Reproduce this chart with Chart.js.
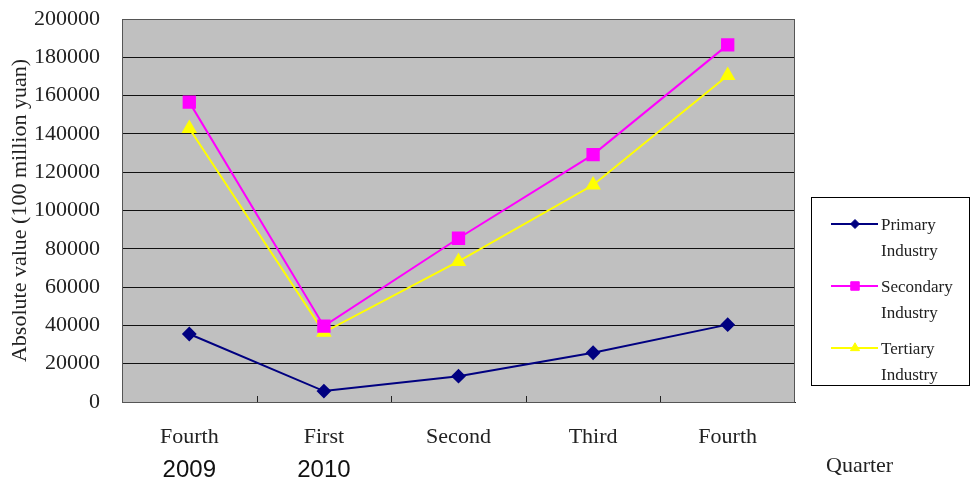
<!DOCTYPE html>
<html>
<head>
<meta charset="utf-8">
<script src="https://cdn.jsdelivr.net/npm/chart.js@4/dist/chart.umd.min.js"></script>
<style>
  html, body { margin: 0; padding: 0; background: #fff; }
  #wrap { width: 972px; height: 480px; }
</style>
</head>
<body>
<div id="wrap"><canvas id="c" width="972" height="480"></canvas></div>
<script>
// Quarterly output by industry, 2009 Q4 to 2010 Q4
const quarters = ['Fourth', 'First', 'Second', 'Third', 'Fourth'];
const years = ['2009', '2010', '', '', ''];
const primary = [35500, 5700, 13500, 25700, 40400];
const secondary = [156600, 39600, 85500, 129200, 186500];
const tertiary = [142800, 36400, 73400, 113300, 170500];
const seriesNames = [['Primary', 'Industry'], ['Secondary', 'Industry'], ['Tertiary', 'Industry']];
const yTicks = [0, 20000, 40000, 60000, 80000, 100000, 120000, 140000, 160000, 180000, 200000];

const SERIF = "'Liberation Serif', 'DejaVu Serif', serif";
const SANS = "'Liberation Sans', Arial, sans-serif";

// Grey plot area, frame and inward tick marks on the category axis
const plotFrame = {
  id: 'plotFrame',
  beforeDraw(chart) {
    const { ctx, chartArea: a } = chart;
    ctx.save();
    ctx.fillStyle = '#c0c0c0';
    ctx.fillRect(a.left, a.top, a.right - a.left, a.bottom - a.top);
    ctx.restore();
  },
  afterDatasetsDraw(chart) {
    const { ctx, chartArea: a } = chart;
    const xs = chart.scales.x;
    ctx.save();
    ctx.strokeStyle = '#222';
    ctx.lineWidth = 1;
    ctx.beginPath();
    for (let i = 0; i < quarters.length - 1; i++) {
      const px = Math.round((xs.getPixelForValue(i) + xs.getPixelForValue(i + 1)) / 2) + 0.5;
      ctx.moveTo(px, a.bottom);
      ctx.lineTo(px, a.bottom - 6);
    }
    ctx.stroke();
    ctx.strokeStyle = '#555';
    ctx.strokeRect(a.left + 0.5, a.top + 0.5, a.right - a.left - 1, a.bottom - a.top);
    ctx.restore();
  }
};

// Boxed legend with two-line names, plus the "Quarter" caption
const sideLegend = {
  id: 'sideLegend',
  afterDraw(chart) {
    const { ctx } = chart;
    const helpers = Chart.helpers || {};
    ctx.save();
    ctx.strokeStyle = '#000';
    ctx.lineWidth = 1;
    ctx.strokeRect(811.5, 197.5, 158, 188);
    const rows = [224, 286, 348];
    chart.data.datasets.forEach((ds, i) => {
      const y = rows[i];
      ctx.strokeStyle = ds.borderColor;
      ctx.lineWidth = 2;
      ctx.beginPath();
      ctx.moveTo(831, y);
      ctx.lineTo(878, y);
      ctx.stroke();
      const opts = { pointStyle: ds.pointStyle, radius: ds.pointRadius * 0.75, rotation: 0, borderWidth: 1 };
      ctx.fillStyle = ds.pointBackgroundColor;
      ctx.strokeStyle = ds.pointBorderColor;
      ctx.lineWidth = 1;
      if (helpers.drawPoint) helpers.drawPoint(ctx, opts, 855, y);
      ctx.fillStyle = '#222';
      ctx.font = '17px ' + SERIF;
      ctx.textAlign = 'left';
      ctx.textBaseline = 'middle';
      ctx.fillText(seriesNames[i][0], 881, y + 2);
      ctx.fillText(seriesNames[i][1], 881, y + 28);
    });
    ctx.font = '22px ' + SERIF;
    ctx.textAlign = 'left';
    ctx.textBaseline = 'alphabetic';
    ctx.fillStyle = '#222';
    ctx.fillText('Quarter', 826, 472);
    ctx.restore();
  }
};

new Chart(document.getElementById('c'), {
  type: 'line',
  data: {
    labels: quarters,
    datasets: [
      {
        label: 'Primary Industry',
        data: primary,
        borderColor: '#000080',
        backgroundColor: '#000080',
        pointBackgroundColor: '#000080',
        pointBorderColor: '#000080',
        pointStyle: 'rectRot',
        pointRadius: 6,
        borderWidth: 2
      },
      {
        label: 'Secondary Industry',
        data: secondary,
        borderColor: '#ff00ff',
        backgroundColor: '#ff00ff',
        pointBackgroundColor: '#ff00ff',
        pointBorderColor: '#ff00ff',
        pointStyle: 'rect',
        pointRadius: 8,
        borderWidth: 2
      },
      {
        label: 'Tertiary Industry',
        data: tertiary,
        borderColor: '#ffff00',
        backgroundColor: '#ffff00',
        pointBackgroundColor: '#ffff00',
        pointBorderColor: '#ffff00',
        pointStyle: 'triangle',
        pointRadius: 7,
        borderWidth: 2
      }
    ]
  },
  options: {
    responsive: false,
    animation: false,
    devicePixelRatio: 1,
    layout: { padding: { left: 0, right: 177, top: 19, bottom: 0 } },
    plugins: {
      legend: { display: false },
      tooltip: { enabled: false }
    },
    elements: { line: { tension: 0 } },
    scales: {
      y: {
        position: 'left',
        min: 0,
        max: 200000,
        afterBuildTicks(scale) { scale.ticks = yTicks.map(v => ({ value: v })); },
        afterFit(scale) {
          scale.width = 122;
          scale.paddingTop = 0;
          scale.paddingBottom = 0;
        },
        ticks: {
          padding: 22,
          color: '#222',
          font: { family: SERIF, size: 22 },
          callback: v => String(v)
        },
        grid: { color: '#111', lineWidth: 1, drawTicks: false },
        border: { display: true, color: '#222', width: 1 },
        title: {
          display: true,
          text: 'Absolute value (100 million yuan)',
          color: '#222',
          font: { family: SERIF, size: 22 },
          padding: { top: 7, bottom: 0 }
        }
      },
      x: {
        position: 'bottom',
        weight: 0,
        offset: true,
        afterFit(scale) { scale.height = 50; },
        grid: { display: false, drawTicks: false },
        border: { display: true, color: '#222', width: 1 },
        ticks: {
          padding: 22,
          color: '#222',
          maxRotation: 0,
          autoSkip: false,
          font: { family: SERIF, size: 22 }
        }
      },
      x2: {
        type: 'category',
        position: 'bottom',
        weight: 1,
        offset: true,
        labels: years,
        afterFit(scale) { scale.height = 28; },
        grid: { display: false, drawTicks: false },
        border: { display: false },
        ticks: {
          padding: 4,
          color: '#111',
          maxRotation: 0,
          autoSkip: false,
          font: { family: SANS, size: 24 }
        }
      }
    }
  },
  plugins: [plotFrame, sideLegend]
});
</script>
</body>
</html>
